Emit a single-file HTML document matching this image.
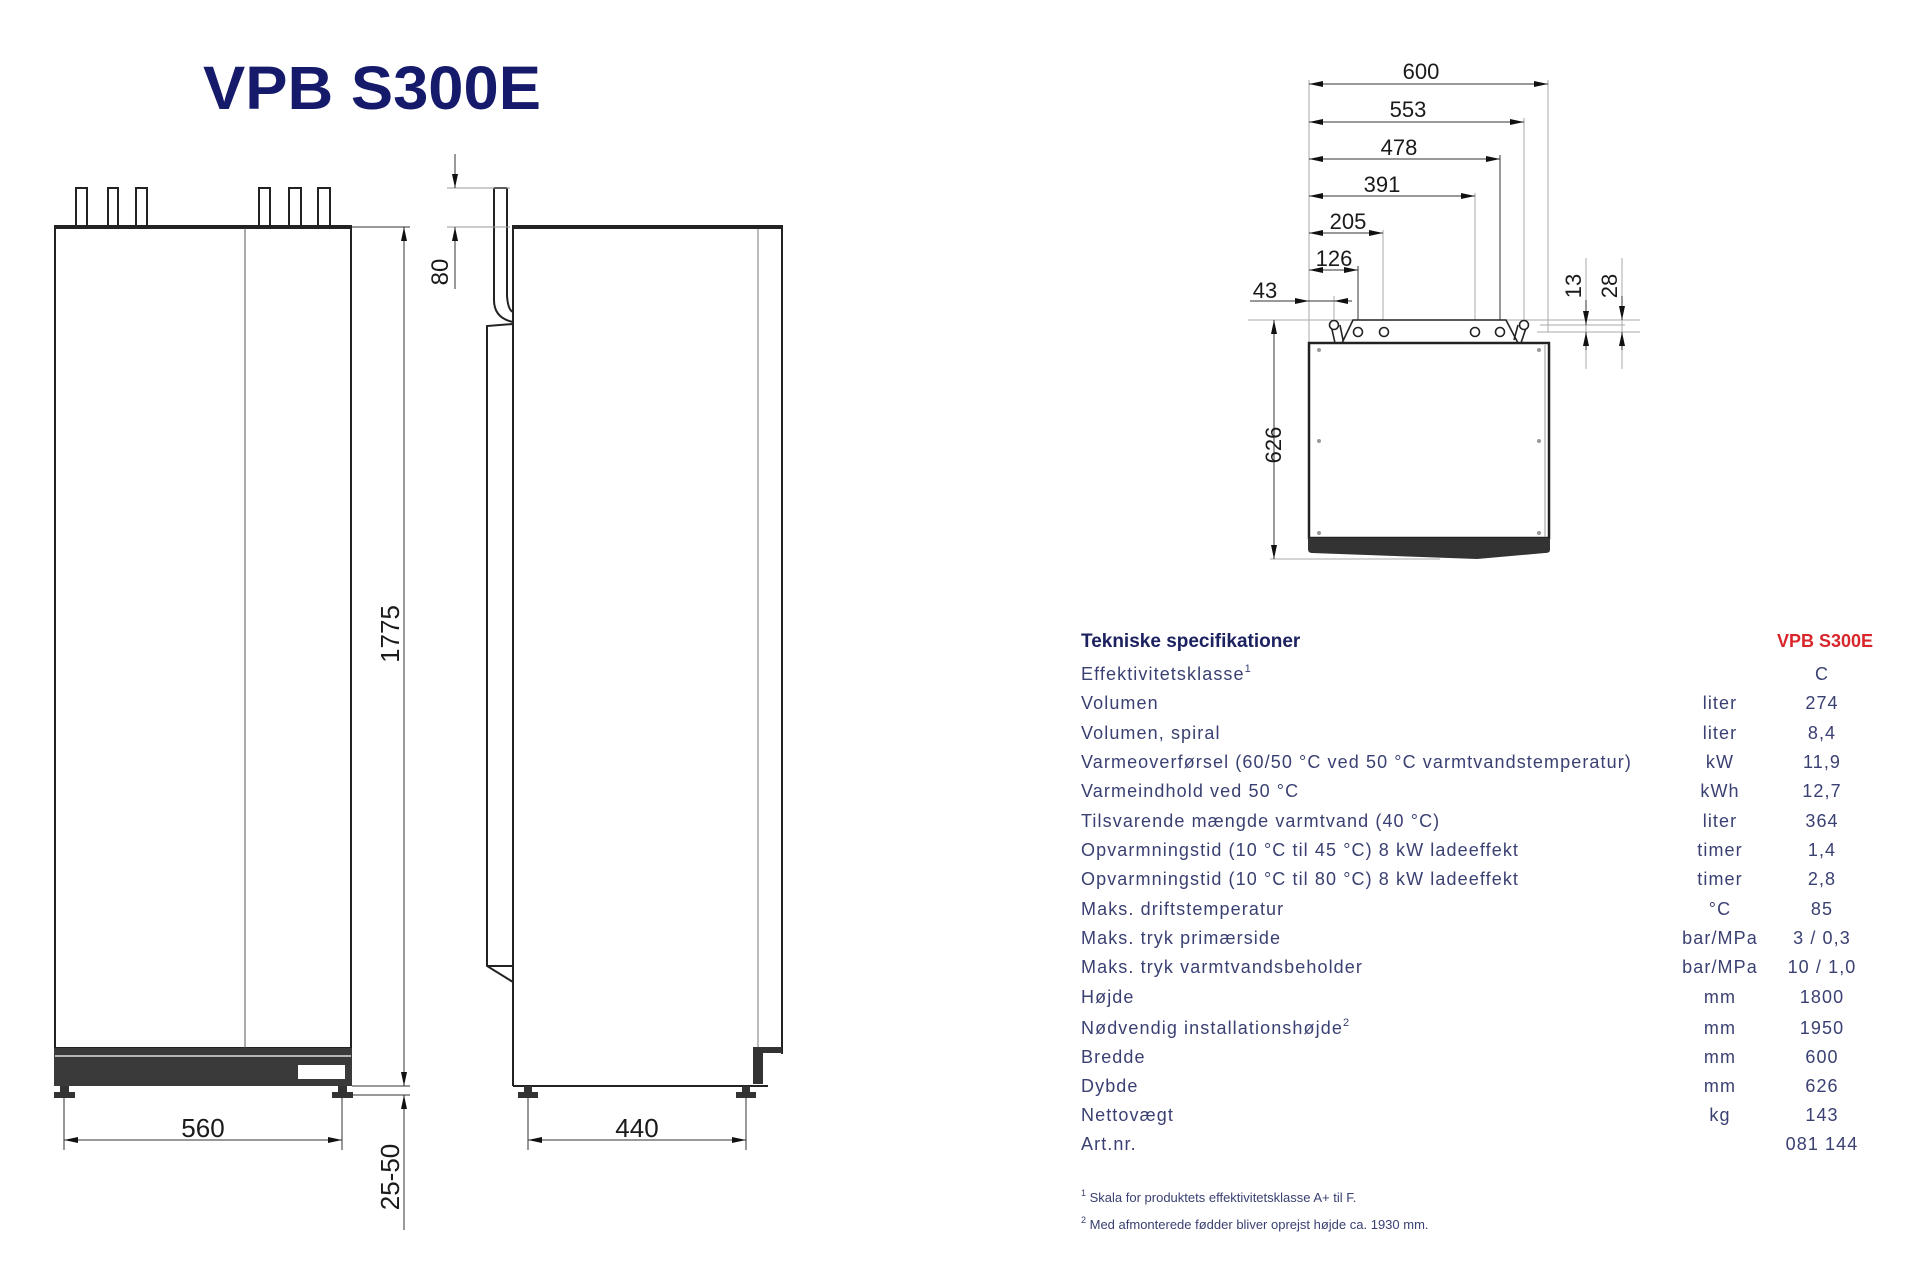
<!DOCTYPE html>
<html><head><meta charset="utf-8"><style>
html,body{margin:0;padding:0;background:#fff;}
svg{display:block}
.t{font-family:"Liberation Sans",sans-serif;fill:#1a1a1a}
.sp{font-family:"Liberation Sans",sans-serif;fill:#3a4072;font-size:18px;letter-spacing:1.1px}
</style></head><body>
<svg width="1920" height="1280" viewBox="0 0 1920 1280" xmlns="http://www.w3.org/2000/svg">
<defs>
<marker id="a" viewBox="0 0 14 6" refX="14" refY="3" markerWidth="14" markerHeight="6" markerUnits="userSpaceOnUse" orient="auto-start-reverse"><path d="M0,0L14,3L0,6z" fill="#111"/></marker>
</defs>
<text x="203" y="109" font-family="Liberation Sans,sans-serif" font-weight="bold" font-size="61" fill="#161a6b" textLength="338" lengthAdjust="spacingAndGlyphs">VPB S300E</text>

<g fill="none" stroke="#222" stroke-width="2">
<rect x="76" y="188" width="11" height="39"/><rect x="108" y="188" width="10" height="39"/><rect x="136" y="188" width="11" height="39"/>
<rect x="259" y="188" width="11" height="39"/><rect x="289" y="188" width="12" height="39"/><rect x="318" y="188" width="12" height="39"/>
<rect x="55" y="227" width="296" height="821"/>
</g>
<line x1="54" y1="227" x2="352" y2="227" stroke="#222" stroke-width="4"/>
<line x1="245" y1="228" x2="245" y2="1048" stroke="#555" stroke-width="1"/>
<rect x="54" y="1048" width="298" height="38" fill="#3a3a3a"/>
<line x1="55" y1="1056" x2="351" y2="1056" stroke="#ddd" stroke-width="1.5"/>
<rect x="298" y="1065" width="47" height="14" fill="#fff"/>
<path d="M54,1092h21v6h-21z M60,1086h9v6h-9z M332,1092h21v6h-21z M338,1086h9v6h-9z" fill="#333"/>
<g stroke="#333" stroke-width="1" fill="none">
<line x1="352" y1="227" x2="410" y2="227"/>
<line x1="352" y1="1086" x2="410" y2="1086"/>
<line x1="352" y1="1095" x2="410" y2="1095"/>
<line x1="404" y1="227" x2="404" y2="1086" marker-start="url(#a)" marker-end="url(#a)"/>
<line x1="404" y1="1230" x2="404" y2="1095" marker-end="url(#a)"/>
<line x1="64" y1="1098" x2="64" y2="1150"/><line x1="342" y1="1098" x2="342" y2="1150"/>
<line x1="64" y1="1140" x2="342" y2="1140" marker-start="url(#a)" marker-end="url(#a)"/>
</g>
<text class="t" x="203" y="1137" font-size="26" text-anchor="middle">560</text>
<text class="t" font-size="26" text-anchor="middle" transform="translate(399,634) rotate(-90)">1775</text>
<text class="t" font-size="26" text-anchor="middle" transform="translate(399,1177) rotate(-90)">25-50</text>

<g fill="none" stroke="#222" stroke-width="2">
<path d="M494,188 V300 Q494,318 513,322"/>
<path d="M507,188 V296 Q508,310 513,312"/>
<line x1="494" y1="188" x2="507" y2="188"/>
<path d="M513,227 H782 V1054"/>
<line x1="513" y1="227" x2="513" y2="1086"/>
<path d="M513,324 L487,326 V966 L513,982"/>
<line x1="487" y1="966" x2="513" y2="966"/>
<line x1="513" y1="1086" x2="768" y2="1086"/>
</g>
<line x1="512" y1="227" x2="783" y2="227" stroke="#222" stroke-width="4"/>
<line x1="758" y1="229" x2="758" y2="1050" stroke="#777" stroke-width="1"/>
<path d="M753,1047 H782 V1053 H763 V1084 H753 Z" fill="#333"/>
<path d="M518,1092h20v6h-20z M524,1086h8v6h-8z M736,1092h20v6h-20z M742,1086h8v6h-8z" fill="#333"/>
<g stroke="#333" stroke-width="1" fill="none">
<line x1="447" y1="188" x2="510" y2="188" stroke="#999"/>
<line x1="447" y1="227" x2="510" y2="227" stroke="#999"/>
<line x1="455" y1="154" x2="455" y2="188" marker-end="url(#a)"/>
<line x1="455" y1="289" x2="455" y2="227" marker-end="url(#a)"/>
<line x1="528" y1="1098" x2="528" y2="1150"/><line x1="746" y1="1098" x2="746" y2="1150"/>
<line x1="528" y1="1140" x2="746" y2="1140" marker-start="url(#a)" marker-end="url(#a)"/>
</g>
<text class="t" x="637" y="1137" font-size="26" text-anchor="middle">440</text>
<text class="t" font-size="24" text-anchor="middle" transform="translate(448,272) rotate(-90)">80</text>

<g stroke="#aaa" stroke-width="1" fill="none">
<line x1="1309" y1="80" x2="1309" y2="343"/>
<line x1="1548" y1="80" x2="1548" y2="332"/>
<line x1="1524" y1="118" x2="1524" y2="320"/>
<line x1="1475" y1="193" x2="1475" y2="320"/>
<line x1="1383" y1="230" x2="1383" y2="320"/>
<line x1="1334" y1="296" x2="1334" y2="330"/>
<line x1="1248" y1="320" x2="1640" y2="320"/>
<line x1="1390" y1="325" x2="1470" y2="325"/>
<line x1="1540" y1="325" x2="1625" y2="325"/>
<line x1="1537" y1="332" x2="1640" y2="332"/>
<line x1="1270" y1="559" x2="1440" y2="559"/>
<line x1="1586" y1="258" x2="1586" y2="369"/>
<line x1="1622" y1="258" x2="1622" y2="369"/>
</g>
<g stroke="#333" stroke-width="1" fill="none">
<line x1="1500" y1="155" x2="1500" y2="332"/>
<line x1="1358" y1="266" x2="1358" y2="332"/>
<line x1="1309" y1="84" x2="1548" y2="84" marker-start="url(#a)" marker-end="url(#a)"/>
<line x1="1309" y1="122" x2="1524" y2="122" marker-start="url(#a)" marker-end="url(#a)"/>
<line x1="1309" y1="159" x2="1500" y2="159" marker-start="url(#a)" marker-end="url(#a)"/>
<line x1="1309" y1="196" x2="1475" y2="196" marker-start="url(#a)" marker-end="url(#a)"/>
<line x1="1309" y1="233" x2="1383" y2="233" marker-start="url(#a)" marker-end="url(#a)"/>
<line x1="1309" y1="270" x2="1358" y2="270" marker-start="url(#a)" marker-end="url(#a)"/>
<line x1="1250" y1="301" x2="1309" y2="301" marker-end="url(#a)"/>
<line x1="1352" y1="301" x2="1334" y2="301" marker-end="url(#a)"/>
<line x1="1334" y1="301" x2="1309" y2="301"/>
<line x1="1274" y1="320" x2="1274" y2="559" marker-start="url(#a)" marker-end="url(#a)"/>
<line x1="1586" y1="300" x2="1586" y2="325" marker-end="url(#a)"/>
<line x1="1586" y1="350" x2="1586" y2="332" marker-end="url(#a)"/>
<line x1="1622" y1="296" x2="1622" y2="320" marker-end="url(#a)"/>
<line x1="1622" y1="350" x2="1622" y2="332" marker-end="url(#a)"/>
</g>
<text class="t" x="1421" y="79" font-size="22" text-anchor="middle">600</text>
<text class="t" x="1408" y="117" font-size="22" text-anchor="middle">553</text>
<text class="t" x="1399" y="155" font-size="22" text-anchor="middle">478</text>
<text class="t" x="1382" y="192" font-size="22" text-anchor="middle">391</text>
<text class="t" x="1348" y="229" font-size="22" text-anchor="middle">205</text>
<text class="t" x="1334" y="266" font-size="22" text-anchor="middle">126</text>
<text class="t" x="1265" y="298" font-size="22" text-anchor="middle">43</text>
<text class="t" font-size="22" text-anchor="middle" transform="translate(1281,445) rotate(-90)">626</text>
<text class="t" font-size="22" text-anchor="middle" transform="translate(1581,286) rotate(-90)">13</text>
<text class="t" font-size="22" text-anchor="middle" transform="translate(1617,286) rotate(-90)">28</text>
<g fill="#fff" stroke="#222" stroke-width="1.6">
<path d="M1342,343 L1353,320 H1506 L1518,343"/>
<path d="M1331,325 L1335,343 M1340,325 L1343,340" fill="none"/>
<path d="M1527,325 L1521,343 M1518,325 L1514,340" fill="none"/>
<circle cx="1334" cy="325" r="4.5"/><circle cx="1524" cy="325" r="4.5"/>
<circle cx="1358" cy="332" r="4.5"/><circle cx="1384" cy="332" r="4.5"/>
<circle cx="1475" cy="332" r="4.5"/><circle cx="1500" cy="332" r="4.5"/>
</g>
<rect x="1309" y="343" width="240" height="195" fill="#fff" stroke="#222" stroke-width="2.5"/>
<line x1="1545" y1="345" x2="1545" y2="537" stroke="#999" stroke-width="1"/>
<path d="M1308,538 H1550 V550 Q1550,553 1545,553 L1477,559 L1312,553 Q1308,553 1308,549 Z" fill="#333"/>
<g fill="#999"><circle cx="1319" cy="350" r="2"/><circle cx="1539" cy="350" r="2"/><circle cx="1319" cy="441" r="2"/><circle cx="1539" cy="441" r="2"/><circle cx="1319" cy="533" r="2"/><circle cx="1539" cy="533" r="2"/></g>

<text x="1081" y="647" font-family="Liberation Sans,sans-serif" font-weight="bold" font-size="19" fill="#1c2160">Tekniske specifikationer</text>
<text x="1873" y="647" font-family="Liberation Sans,sans-serif" font-weight="bold" font-size="18" fill="#d8262a" text-anchor="end">VPB S300E</text>
<g class="sp">
<text x="1081" y="680">Effektivitetsklasse<tspan font-size="11" dy="-8">1</tspan></text>
<text x="1081" y="709">Volumen</text>
<text x="1081" y="739">Volumen, spiral</text>
<text x="1081" y="768">Varmeoverførsel (60/50 °C ved 50 °C varmtvandstemperatur)</text>
<text x="1081" y="797">Varmeindhold ved 50 °C</text>
<text x="1081" y="827">Tilsvarende mængde varmtvand (40 °C)</text>
<text x="1081" y="856">Opvarmningstid (10 °C til 45 °C) 8 kW ladeeffekt</text>
<text x="1081" y="885">Opvarmningstid (10 °C til 80 °C) 8 kW ladeeffekt</text>
<text x="1081" y="915">Maks. driftstemperatur</text>
<text x="1081" y="944">Maks. tryk primærside</text>
<text x="1081" y="973">Maks. tryk varmtvandsbeholder</text>
<text x="1081" y="1003">Højde</text>
<text x="1081" y="1034">Nødvendig installationshøjde<tspan font-size="11" dy="-8">2</tspan></text>
<text x="1081" y="1063">Bredde</text>
<text x="1081" y="1092">Dybde</text>
<text x="1081" y="1121">Nettovægt</text>
<text x="1081" y="1150">Art.nr.</text>
</g>
<g class="sp" text-anchor="middle">
<text x="1720" y="709">liter</text><text x="1720" y="739">liter</text><text x="1720" y="768">kW</text>
<text x="1720" y="797">kWh</text><text x="1720" y="827">liter</text><text x="1720" y="856">timer</text>
<text x="1720" y="885">timer</text><text x="1720" y="915">°C</text><text x="1720" y="944">bar/MPa</text>
<text x="1720" y="973">bar/MPa</text><text x="1720" y="1003">mm</text><text x="1720" y="1034">mm</text>
<text x="1720" y="1063">mm</text><text x="1720" y="1092">mm</text><text x="1720" y="1121">kg</text>
</g>
<g class="sp" text-anchor="middle">
<text x="1822" y="680">C</text><text x="1822" y="709">274</text><text x="1822" y="739">8,4</text>
<text x="1822" y="768">11,9</text><text x="1822" y="797">12,7</text><text x="1822" y="827">364</text>
<text x="1822" y="856">1,4</text><text x="1822" y="885">2,8</text><text x="1822" y="915">85</text>
<text x="1822" y="944">3 / 0,3</text><text x="1822" y="973">10 / 1,0</text><text x="1822" y="1003">1800</text>
<text x="1822" y="1034">1950</text><text x="1822" y="1063">600</text><text x="1822" y="1092">626</text>
<text x="1822" y="1121">143</text><text x="1822" y="1150">081 144</text>
</g>
<g font-family="Liberation Sans,sans-serif" font-size="13" fill="#3a4072">
<text x="1081" y="1202"><tspan font-size="9" dy="-6">1</tspan><tspan dy="6"> Skala for produktets effektivitetsklasse A+ til F.</tspan></text>
<text x="1081" y="1229"><tspan font-size="9" dy="-6">2</tspan><tspan dy="6"> Med afmonterede fødder bliver oprejst højde ca. 1930 mm.</tspan></text>
</g>
</svg>
</body></html>
